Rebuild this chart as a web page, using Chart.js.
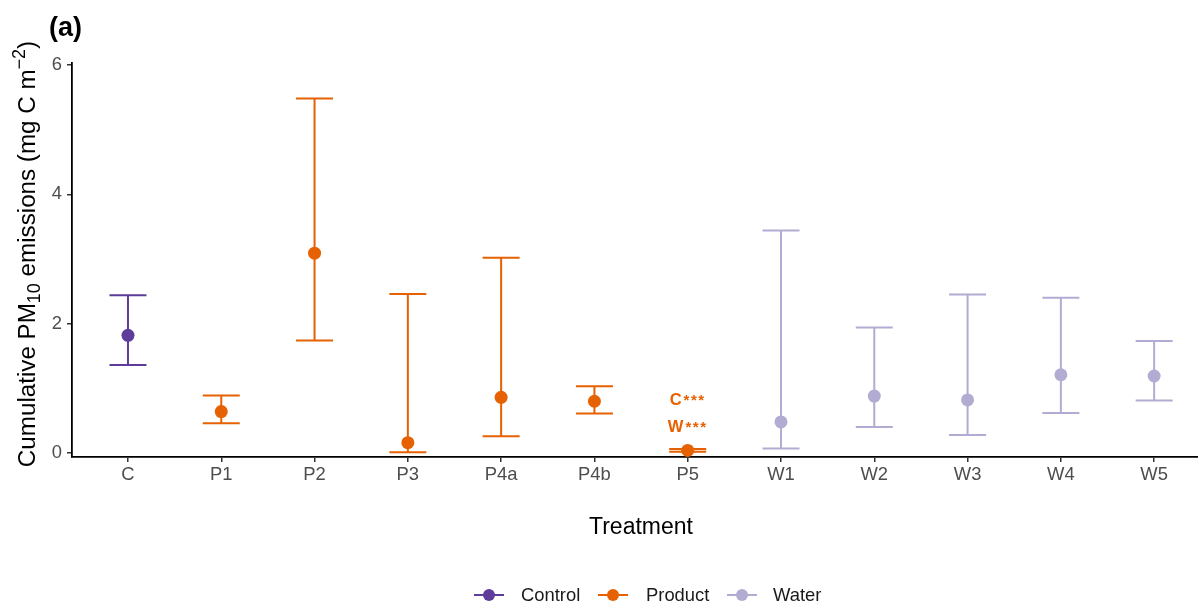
<!DOCTYPE html>
<html>
<head>
<meta charset="utf-8">
<script src="https://cdn.jsdelivr.net/npm/chart.js@4.4.1/dist/chart.umd.min.js"></script>
<style>
  html, body { margin: 0; padding: 0; background: #fff; overflow: hidden; }
  #wrap { width: 1198px; height: 605px; }
  #pmChart { display: block; }
</style>
</head>
<body>
<div id="wrap"><canvas id="pmChart" width="1198" height="605"></canvas></div>
<script>
// treatments, their group and the mean with lower / upper interval
var treatments = ['C', 'P1', 'P2', 'P3', 'P4a', 'P4b', 'P5', 'W1', 'W2', 'W3', 'W4', 'W5'];
var groups = ['Control', 'Product', 'Product', 'Product', 'Product', 'Product', 'Product',
              'Water', 'Water', 'Water', 'Water', 'Water'];
var means = [1.82, 0.64, 3.09, 0.16, 0.86, 0.80, 0.04, 0.48, 0.88, 0.82, 1.21, 1.19];
var lower = [1.36, 0.46, 1.74, 0.01, 0.26, 0.61, 0.02, 0.07, 0.40, 0.28, 0.62, 0.81];
var upper = [2.44, 0.89, 5.48, 2.46, 3.02, 1.03, 0.06, 3.44, 1.94, 2.45, 2.40, 1.73];
var yTicks = [0, 2, 4, 6];
var groupNames = ['Control', 'Product', 'Water'];

// significance labels on P5
var sigLabels = ['C', 'W'];
var sigStars = ['***', '***'];
var sigY = [0.81, 0.39]; // where the labels sit, in axis units

var colours = { Control: '#5e3c99', Product: '#e66101', Water: '#b2abd2' };
var FONT = "'Liberation Sans', Arial, Helvetica, sans-serif";

function pointsFor(g){
  var pts = [];
  for (let i = 0; i < treatments.length; i++){
    if (groups[i] == g) pts.push({x: i, y: means[i]});
  }
  return pts;
}

var datasets = groupNames.map(function(g){
  return {
    label: g,
    data: pointsFor(g),
    backgroundColor: colours[g],
    borderWidth: 0,
    pointRadius: 6.5,
    showLine: false
  };
});

// error bars go under the points
var errorBars = {
  id: 'errorBars',
  beforeDatasetsDraw: function(chart){
    var ctx = chart.ctx, xs = chart.scales.x, ys = chart.scales.y;
    ctx.save();
    ctx.lineWidth = 2;
    for (let i = 0; i < treatments.length; i++){
      var x = xs.getPixelForValue(i);
      var yl = ys.getPixelForValue(lower[i]);
      var yu = ys.getPixelForValue(upper[i]);
      var w = 18.5;
      ctx.strokeStyle = colours[groups[i]];
      ctx.beginPath();
      ctx.moveTo(x, yl); ctx.lineTo(x, yu);
      ctx.moveTo(x - w, yl); ctx.lineTo(x + w, yl);
      ctx.moveTo(x - w, yu); ctx.lineTo(x + w, yu);
      ctx.stroke();
    }
    ctx.restore();
  }
};

// titles, legend, panel tag and the P5 labels
var decorations = {
  id: 'decorations',
  afterDraw: function(chart){
    var ctx = chart.ctx, xs = chart.scales.x, ys = chart.scales.y;
    ctx.save();

    // panel tag
    ctx.fillStyle = '#000';
    ctx.font = 'bold 27px ' + FONT;
    ctx.textBaseline = 'alphabetic';
    ctx.textAlign = 'left';
    ctx.fillText('(a)', 49, 36);

    // x title
    ctx.font = '23px ' + FONT;
    ctx.textAlign = 'center';
    ctx.fillText('Treatment', 641, 534);

    // y title with sub / superscript, rotated
    var parts = [
      {t: 'Cumulative PM', s: 24.2, dy: 0},
      {t: '10', s: 18, dy: 5},
      {t: ' emissions (mg C m', s: 24.2, dy: 0},
      {t: '\u22122', s: 18, dy: -10},
      {t: ')', s: 24.2, dy: 0}
    ];
    var total = 0;
    parts.forEach(function(p){
      ctx.font = p.s + 'px ' + FONT;
      p.w = ctx.measureText(p.t).width;
      total += p.w;
    });
    ctx.translate(35, 254);
    ctx.rotate(-Math.PI / 2);
    ctx.textAlign = 'left';
    var px = -total / 2;
    parts.forEach(function(p){
      ctx.font = p.s + 'px ' + FONT;
      ctx.fillText(p.t, px, p.dy);
      px += p.w;
    });
    ctx.setTransform(1, 0, 0, 1, 0, 0);

    // legend
    var keyX = [489, 613, 742];
    var textX = [521, 646, 773];
    var ly = 595;
    ctx.font = '18.4px ' + FONT;
    ctx.textBaseline = 'middle';
    ctx.textAlign = 'left';
    for (let k = 0; k < groupNames.length; k++){
      var c = colours[groupNames[k]];
      ctx.strokeStyle = c;
      ctx.fillStyle = c;
      ctx.lineWidth = 2;
      ctx.beginPath();
      ctx.moveTo(keyX[k] - 15, ly); ctx.lineTo(keyX[k] + 15, ly);
      ctx.stroke();
      ctx.beginPath();
      ctx.arc(keyX[k], ly, 6, 0, Math.PI * 2);
      ctx.fill();
      ctx.fillStyle = '#1a1a1a';
      ctx.fillText(groupNames[k], textX[k], ly + 1);
    }

    // P5 significance labels
    var p5 = treatments.indexOf('P5');
    var cx = xs.getPixelForValue(p5);
    ctx.fillStyle = colours.Product;
    for (let k = 0; k < sigLabels.length; k++){
      var yy = ys.getPixelForValue(sigY[k]);
      ctx.font = 'bold 16.5px ' + FONT;
      var lw = ctx.measureText(sigLabels[k]).width;
      var starStep = 7.4;
      var full = lw + 2 + starStep * sigStars[k].length;
      var sx = cx - full / 2;
      ctx.textBaseline = 'middle';
      ctx.fillText(sigLabels[k], sx, yy);
      ctx.font = 'bold 15px ' + FONT;
      for (let s = 0; s < sigStars[k].length; s++){
        ctx.fillText('*', sx + lw + 2 + s * starStep, yy);
      }
    }
    ctx.restore();
  }
};

var pmChart = new Chart(document.getElementById('pmChart'), {
  type: 'scatter',
  data: { datasets: datasets },
  options: {
    responsive: false,
    animation: false,
    events: [],
    layout: { autoPadding: false, padding: { top: 63, left: 0, right: 0, bottom: 0 } },
    plugins: { legend: { display: false }, tooltip: { enabled: false } },
    scales: {
      x: {
        type: 'linear',
        min: -0.6,
        max: 11.47,
        afterBuildTicks: function(s){ s.ticks = treatments.map(function(t, i){ return {value: i}; }); },
        afterFit: function(s){ s.height = 148; s.paddingLeft = 0; s.paddingRight = 0; },
        ticks: {
          autoSkip: false,
          maxRotation: 0,
          padding: 2,
          color: '#4d4d4d',
          font: { family: FONT, size: 18.4 },
          callback: function(v){ return treatments[v]; }
        },
        grid: { drawOnChartArea: false, drawTicks: true, tickLength: 5, color: '#333', lineWidth: 1.5 },
        border: { display: true, color: '#000', width: 1.8 }
      },
      y: {
        min: -0.062,
        max: 6.03,
        afterBuildTicks: function(s){ s.ticks = yTicks.map(function(v){ return {value: v}; }); },
        afterFit: function(s){ s.width = 72; },
        ticks: {
          padding: 5,
          color: '#4d4d4d',
          font: { family: FONT, size: 18.4 }
        },
        grid: { drawOnChartArea: false, drawTicks: true, tickLength: 5, color: '#333', lineWidth: 1.5 },
        border: { display: true, color: '#000', width: 1.8 }
      }
    }
  },
  plugins: [errorBars, decorations]
});
</script>
</body>
</html>
